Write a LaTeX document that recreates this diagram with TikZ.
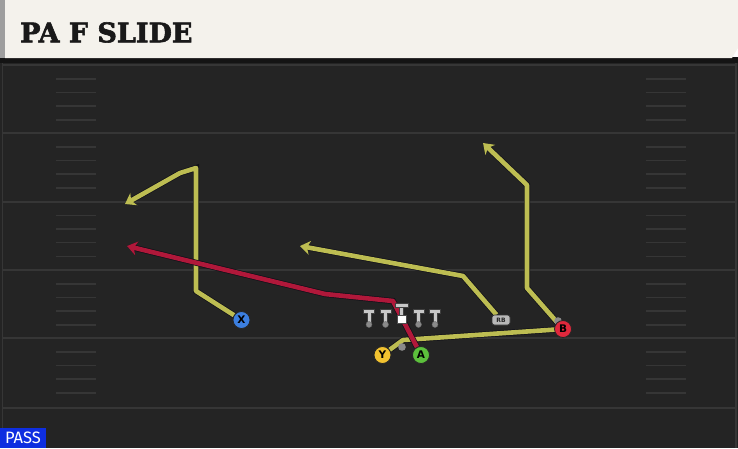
\documentclass[tikz,border=0pt]{standalone}
\usepackage{fontspec}
\setmainfont{DejaVu Sans}
\newfontfamily\titlefont[FakeBold=2.2]{DejaVu Serif}
\newfontfamily\passfont{Fira Sans}
\usepackage{xcolor}
\usepackage{tikz}
\usetikzlibrary{positioning}
\usetikzlibrary{arrows.meta}

\definecolor{fieldbg}{HTML}{242424}
\definecolor{fieldline}{HTML}{363636}
\definecolor{headbg}{HTML}{F4F2EC}
\definecolor{routeyel}{HTML}{BDBD52}
\definecolor{routered}{HTML}{B0183A}
\definecolor{routeedge}{HTML}{101018}
\definecolor{xblue}{HTML}{3C7FE0}
\definecolor{yyellow}{HTML}{F2C230}
\definecolor{agreen}{HTML}{5CC03C}
\definecolor{bred}{HTML}{E0283C}
\definecolor{passblue}{HTML}{0E2EE0}
\definecolor{tgray}{HTML}{C8C8C8}
\definecolor{dotgray}{HTML}{8A8A8A}

\pgfdeclarelayer{field}
\pgfdeclarelayer{routes}
\pgfsetlayers{field,routes,main}

\tikzset{
  player/.style={circle,draw=black!85,line width=0.8pt,minimum size=17pt,inner sep=0pt,font=\bfseries\fontsize{10.5}{10.5}\selectfont},
  route/.style={line width=4.6pt,line join=round,preaction={draw=routeedge,line width=6pt}},
  tip/.style={-{Stealth[length=10pt,width=14pt,inset=3pt]}},
  lineman/.pic={
    \fill[tgray,draw=black!75,line width=0.5pt] (-2,-11.5) rectangle (2,0);
    \fill[tgray,draw=black!75,line width=0.5pt] (-5.6,-15.6) rectangle (5.6,-11.2);
    \fill[tgray] (-1.5,-11.6) rectangle (1.5,-0.5);
    \fill[dotgray,draw=black!60,line width=0.4pt] (0,0) circle (3);
  }
}

\begin{document}
\begin{tikzpicture}[x=1pt,y=-1pt]
	\useasboundingbox (0,0) rectangle (738,448);

	\begin{pgfonlayer}{field}
	% field
	\fill[fieldbg] (0,58) rectangle (738,448);
	\fill[black!92] (0,57) rectangle (738,63);
	\draw[fieldline,line width=1pt] (2,63) -- (2,448);
	\draw[fieldline,line width=2pt] (736,63) -- (736,448);

	% yard lines and hash marks
	\foreach \yl in {65,133,201.5,270,338}{
		\draw[fieldline,line width=2pt] (2,\yl) -- (736,\yl);
		\foreach \d in {14,27.5,41,55}{
			\draw[fieldline,line width=1.6pt] (56,\yl+\d) -- (96,\yl+\d);
			\draw[fieldline,line width=1.6pt] (646,\yl+\d) -- (686,\yl+\d);
		}
	}
	\draw[fieldline,line width=2pt] (2,408) -- (736,408);

	% header
	\fill[headbg] (5,0) -- (738,0) -- (738,48) -- (732,58) -- (5,58) -- cycle;
	\fill[black!38] (0,0) rectangle (5,58);
	\end{pgfonlayer}
	\node[anchor=base west,inner sep=0pt,font=\titlefont\bfseries\fontsize{27}{30}\selectfont,text=black!90] (title) at (20,42.3) {PA F SLIDE};

	% line
	\pic at (369,324.5) {lineman};
	\pic at (385.5,324.5) {lineman};
	\pic at (418.5,324.5) {lineman};
	\pic at (435,324.5) {lineman};
	\fill[tgray,draw=black!75,line width=0.5pt] (399.7,306) rectangle (403.7,316);
	\fill[tgray,draw=black!75,line width=0.5pt] (395.5,303) rectangle (408,307.4);
	\node[fill=white,draw=black!70,line width=0.5pt,minimum size=8.5pt,inner sep=0pt] (ball) at (401.7,319) {};
	\fill[dotgray] (402,347) circle (3.8);
	\fill[dotgray] (558,321) circle (3.8);

	% players
	\node[player,fill=xblue] (xrec) at (241.5,320) {X};
	\node[player,fill=yyellow] (yrec) at (382.5,355) {Y};
	\node[player,fill=agreen] (arec) at (421,355) {A};
	\node[player,fill=bred] (brec) at (563,329) {B};
	\node[draw=black!80,line width=0.6pt,fill=black!28,rounded corners=2.5pt,minimum width=18pt,minimum height=10pt,inner sep=0pt,font=\bfseries\fontsize{6}{6}\selectfont,text=black!85] (rb) at (501,320) {RB};

	% route points
	\coordinate (xbreak) at (196,291);
	\coordinate (xtop) at (196,168);
	\coordinate (xcurl) at (180,173);
	\coordinate (xend) at (125,204);
	\coordinate (abreak) at (393,301);
	\coordinate (abend) at (325,294);
	\coordinate (aend) at (127,246);
	\coordinate (rbbreak) at (463,276);
	\coordinate (rbend) at (300,246);
	\coordinate (bbreak) at (527,288);
	\coordinate (btop) at (527,185);
	\coordinate (bend) at (483,143);
	\coordinate (ybreak) at (403,340);

	% routes
	\begin{pgfonlayer}{routes}
	\draw[route,routeyel] (yrec) -- (ybreak) -- (brec.center);
	\draw[route,routeyel,tip] (xrec) -- (xbreak) -- (xtop) -- (xcurl) -- (xend);
	\draw[route,routered,tip] (arec) -- (abreak) -- (abend) -- (aend);
	\draw[route,routeyel,tip] (rb) -- (rbbreak) -- (rbend);
	\draw[route,routeyel,tip] (brec) -- (bbreak) -- (btop) -- (bend);
	\end{pgfonlayer}

	% play type
	\fill[passblue] (0,428) rectangle (46,448);
	\node[anchor=base,text=white,font=\passfont\fontsize{16.5}{16.5}\selectfont,inner sep=0pt] (pass) at (23,443.5) {PASS};
\end{tikzpicture}
\end{document}
